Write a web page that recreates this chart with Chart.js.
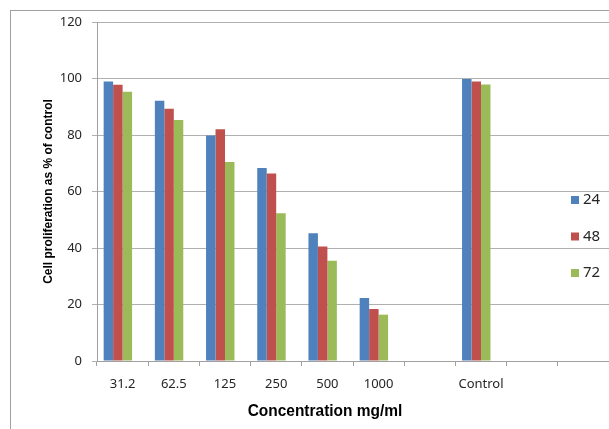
<!DOCTYPE html>
<html>
<head>
<meta charset="utf-8">
<script src="https://cdn.jsdelivr.net/npm/chart.js@4.4.1/dist/chart.umd.min.js"></script>
<style>
  html, body { margin: 0; padding: 0; background: #fff; overflow: hidden; }
  #wrap { position: relative; width: 609px; height: 429px; overflow: hidden; }
  #frame { position: absolute; left: 10px; top: 10px; width: 700px; height: 500px; border: 1px solid #a0a0a0; }
  #grafik { position: absolute; left: 0; top: 0; }
</style>
</head>
<body>
<div id="wrap">
  <div id="frame"></div>
  <canvas id="grafik" width="609" height="429"></canvas>
</div>
<script>
// Data dari grafik
const kategori = ['31.2', '62.5', '125', '250', '500', '1000', '', 'Control', '', ''];
const jam24 = [98.9, 92.1, 79.8, 68.3, 45.2, 22.3, null, 99.8, null, null];
const jam48 = [97.8, 89.3, 82.0, 66.4, 40.5, 18.4, null, 98.9, null, null];
const jam72 = [95.3, 85.3, 70.4, 52.3, 35.5, 16.4, null, 97.9, null, null];
const kosong = [null, null, null, null, null, null, null, null, null, null];
const yTicks = [0, 20, 40, 60, 80, 100, 120];

const warna = ['#4F81BD', '#C0504D', '#9BBB59'];
const namaSeri = ['24', '48', '72'];

// Legenda manual (di dalam area plot, sisi kanan)
const legendaPlugin = {
    id: 'legenda',
    afterDraw(chart) {
        const ctx = chart.ctx;
        ctx.save();
        ctx.font = '15px "Noto Sans", sans-serif';
        ctx.textBaseline = 'middle';
        for (let i = 0; i < namaSeri.length; i++) {
            const y = 200 + i * 36.5;
            ctx.fillStyle = warna[i];
            ctx.fillRect(571, y - 4, 8, 8);
            ctx.fillStyle = '#262626';
            ctx.fillText(namaSeri[i], 583, y);
        }
        ctx.restore();
    }
};

// Judul sumbu x (huruf dipersempit)
const judulX = {
    id: 'judulX',
    afterDraw(chart) {
        const ctx = chart.ctx;
        const a = chart.chartArea;
        const cx = (a.left + a.right) / 2 - 28;
        ctx.save();
        ctx.translate(cx, 411);
        ctx.scale(0.91, 1);
        ctx.font = 'bold 17px "Liberation Sans", sans-serif';
        ctx.fillStyle = '#000';
        ctx.textAlign = 'center';
        ctx.textBaseline = 'middle';
        ctx.fillText('Concentration mg/ml', 0, 0);
        ctx.restore();
    }
};

const ctx = document.getElementById('grafik').getContext('2d');
new Chart(ctx, {
    type: 'bar',
    data: {
        labels: kategori,
        datasets: [
            { label: namaSeri[0], data: jam24, backgroundColor: warna[0] },
            { label: namaSeri[1], data: jam48, backgroundColor: warna[1] },
            { label: namaSeri[2], data: jam72, backgroundColor: warna[2] },
            { label: '', data: kosong, backgroundColor: 'rgba(0,0,0,0)' }
        ]
    },
    options: {
        responsive: false,
        animation: false,
        layout: { padding: { top: 22, right: 0, left: 0, bottom: 0 } },
        datasets: { bar: { categoryPercentage: 0.74, barPercentage: 1.0, borderWidth: 0 } },
        plugins: {
            legend: { display: false },
            tooltip: { enabled: false }
        },
        scales: {
            x: {
                grid: { drawOnChartArea: false, color: '#a0a0a0', tickLength: 5, offset: true },
                border: { color: '#a0a0a0' },
                ticks: {
                    padding: 10,
                    color: '#262626',
                    font: { family: '"Noto Sans", sans-serif', size: 13 },
                    maxRotation: 0,
                    autoSkip: false
                },
                afterFit(scale) { scale.height = 68; }
            },
            y: {
                min: 0,
                max: 120,
                afterBuildTicks(scale) { scale.ticks = yTicks.map(v => ({ value: v })); },
                grid: { color: '#b0b0b0', tickLength: 5 },
                border: { color: '#a0a0a0' },
                ticks: {
                    padding: 10,
                    color: '#262626',
                    font: { family: '"Noto Sans", sans-serif', size: 13 }
                },
                title: {
                    display: true,
                    text: 'Cell proliferation as % of control',
                    color: '#000',
                    padding: { top: 41, bottom: 0 },
                    font: { family: '"Liberation Sans", sans-serif', size: 12, weight: 'bold' }
                },
                afterFit(scale) { scale.width = 97; }
            }
        }
    },
    plugins: [legendaPlugin, judulX]
});
</script>
</body>
</html>
